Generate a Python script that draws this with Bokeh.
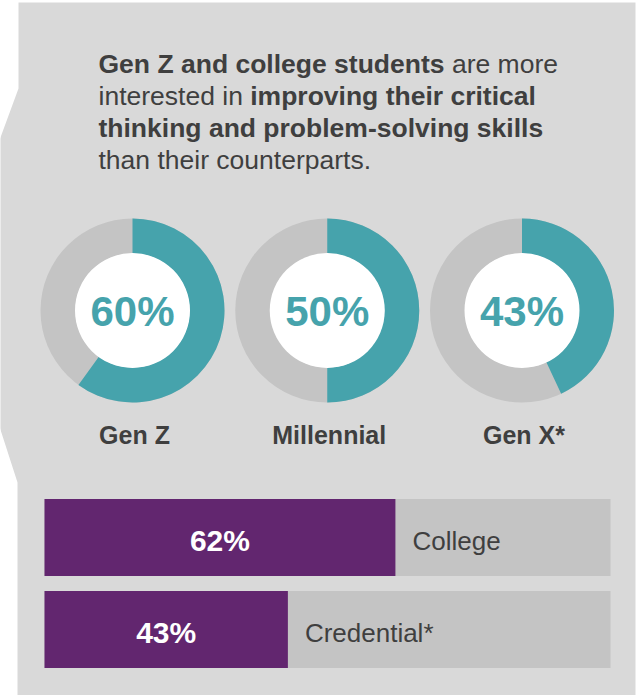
import math
from bokeh.plotting import figure
from bokeh.models import Range1d
from bokeh.embed import file_html
from bokeh.resources import INLINE
from bokeh.core.properties import value

# ---------------- data ----------------
headline_lines = [
    [("Gen Z and college students", True), (" are more", False)],
    [("interested in ", False), ("improving their critical", True)],
    [("thinking and problem-solving skills", True)],
    [("than their counterparts.", False)],
]
generations = ["Gen Z", "Millennial", "Gen X*"]
generation_values = [60, 50, 43]
groups = ["College", "Credential*"]
group_values = [62, 43]

# ---------------- style ----------------
W, H = 640, 695
FONT = value("Liberation Sans")
TEXT = "#3f3f3f"
TEAL = "#46a3ac"
RING = "#c4c4c4"
PANEL = "#d9d9d9"
PURPLE = "#62266f"
BARBG = "#c4c4c4"

REG = {' ': 278, '.': 278, '-': 333, '*': 389, '%': 889,
       'a': 556, 'b': 556, 'c': 500, 'd': 556, 'e': 556, 'f': 278, 'g': 556, 'h': 556,
       'i': 222, 'j': 222, 'k': 500, 'l': 222, 'm': 833, 'n': 556, 'o': 556, 'p': 556,
       'q': 556, 'r': 333, 's': 500, 't': 278, 'u': 556, 'v': 500, 'w': 722, 'x': 500,
       'y': 500, 'z': 500, 'C': 722, 'G': 778, 'Z': 611, 'M': 833, 'X': 667}
BOLD = {' ': 278, '.': 278, '-': 333, '*': 389, '%': 889,
        'a': 556, 'b': 611, 'c': 556, 'd': 611, 'e': 556, 'f': 333, 'g': 611, 'h': 611,
        'i': 278, 'j': 278, 'k': 556, 'l': 278, 'm': 889, 'n': 611, 'o': 611, 'p': 611,
        'q': 611, 'r': 389, 's': 556, 't': 333, 'u': 611, 'v': 556, 'w': 778, 'x': 556,
        'y': 556, 'z': 500, 'G': 778, 'Z': 611, 'M': 833, 'X': 667}


def text_width(s, bold, size):
    tbl = BOLD if bold else REG
    return sum(tbl.get(ch, 556) for ch in s) / 1000.0 * size


def sy(y):
    return H - y


p = figure(width=W, height=H, x_range=Range1d(0, W), y_range=Range1d(0, H),
           x_axis_type=None, y_axis_type=None, output_backend="svg",
           toolbar_location=None, min_border=0, outline_line_color=None,
           background_fill_color="white", border_fill_color="white")
p.grid.visible = False
p.extra_x_ranges = {"pct": Range1d(start=-44 / 566 * 100, end=(W - 44) / 566 * 100)}

# panel with notched left edge
px = [18, 635, 635, 17, 17, -3, -3, 18]
py = [2, 2, 700, 700, 482, 420, 145, 88]
p.patch(px, [sy(v) for v in py], fill_color=PANEL, line_color=None)

# headline with mixed weights
TSIZE = 26.5
mid_y = [63.5, 95.5, 127.5, 159]
bx, by, bt, nx, ny, nt = [], [], [], [], [], []
for line, ym in zip(headline_lines, mid_y):
    x = 98.0
    for seg, bold in line:
        lead = len(seg) - len(seg.lstrip(' '))
        xs = x + text_width(seg[:lead], bold, TSIZE)
        if bold:
            bx.append(xs); by.append(sy(ym)); bt.append(seg.strip())
        else:
            nx.append(xs); ny.append(sy(ym)); nt.append(seg.strip())
        x += text_width(seg, bold, TSIZE)
p.text(x=bx, y=by, text=bt, text_font=FONT, text_font_style="bold",
       text_font_size=f"{TSIZE}px", text_color=TEXT, text_baseline="middle")
p.text(x=nx, y=ny, text=nt, text_font=FONT, text_font_style="normal",
       text_font_size=f"{TSIZE}px", text_color=TEXT, text_baseline="middle")

# donuts
dx = [132 + i * 194.75 for i in range(len(generations))]
dy = [sy(310)] * len(generations)
p.annulus(x=dx, y=dy, inner_radius=57, outer_radius=92, fill_color=RING, line_color=None)
p.annular_wedge(x=dx, y=dy, inner_radius=57, outer_radius=92,
                start_angle=[math.pi / 2] * len(dx),
                end_angle=[math.pi / 2 - 2 * math.pi * v / 100 for v in generation_values],
                direction="clock", fill_color=TEAL, line_color=None)
p.circle(x=dx, y=dy, radius=57.5, fill_color="white", line_color=None)
p.text(x=dx, y=[sy(311)] * len(dx), text=[f"{v}%" for v in generation_values],
       text_font=FONT, text_font_style="bold", text_font_size="42px",
       text_color=TEAL, text_align="center", text_baseline="middle")
p.text(x=[v + 2 for v in dx], y=[sy(434)] * len(dx), text=generations,
       text_font=FONT, text_font_style="bold", text_font_size="25px",
       text_color=TEXT, text_align="center", text_baseline="middle")

# bars
bar_y = [sy(537), sy(629)]
p.hbar(y=bar_y, left=0, right=[100] * len(groups), height=77, fill_color=BARBG,
       line_color=None, x_range_name="pct")
p.hbar(y=bar_y, left=0, right=group_values, height=77, fill_color=PURPLE,
       line_color=None, x_range_name="pct")
p.text(x=[v / 2 for v in group_values], y=[v - 3 for v in bar_y],
       text=[f"{v}%" for v in group_values], x_range_name="pct",
       text_font=FONT, text_font_style="bold", text_font_size="30px",
       text_color="white", text_align="center", text_baseline="middle")
p.text(x=group_values, y=[v - 3 for v in bar_y], text=groups, x_range_name="pct",
       x_offset=17, text_font=FONT, text_font_size="26px",
       text_color=TEXT, text_align="left", text_baseline="middle")

open("out.html", "w").write(file_html(p, INLINE))
